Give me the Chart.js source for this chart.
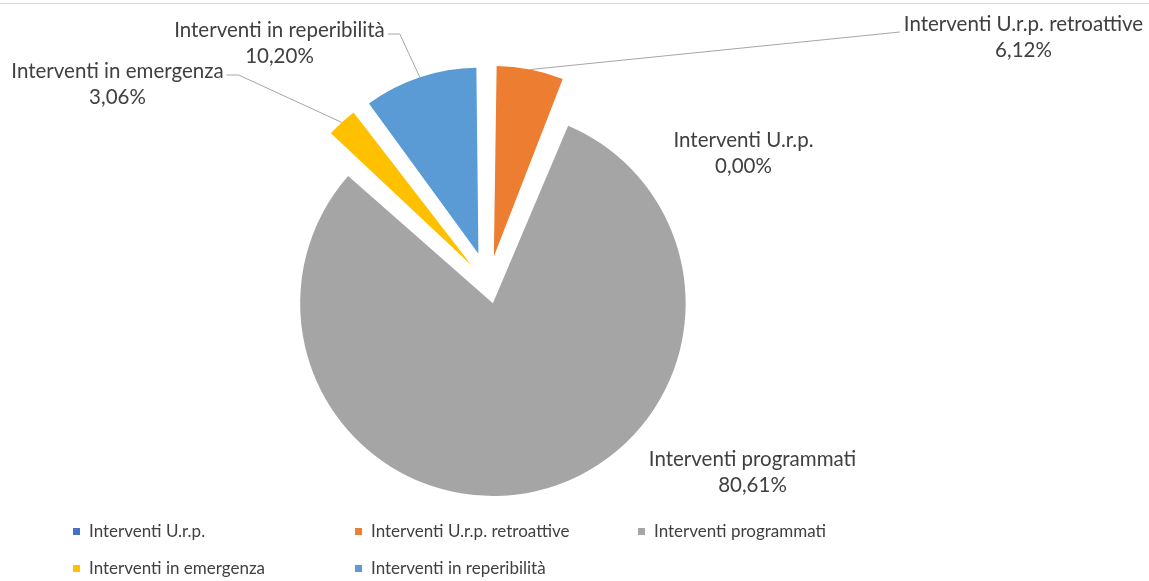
<!DOCTYPE html>
<html>
<head>
<meta charset="utf-8">
<script src="https://cdn.jsdelivr.net/npm/chart.js@4"></script>
<style>
  body { margin: 0; background: #fff; }
  canvas { display: block; }
</style>
</head>
<body>
<canvas id="chart" width="1149" height="581"></canvas>
<script>
const categories = ['Interventi U.r.p.', 'Interventi U.r.p. retroattive', 'Interventi programmati', 'Interventi in emergenza', 'Interventi in reperibilità'];
const shares = [0.00, 6.12, 80.61, 3.06, 10.20];
const sliceColors = ['#4472C4', '#ED7D31', '#A5A5A5', '#FFC000', '#5B9BD5'];
// chart.js explode offsets (it moves a slice by offset/4 and grows it a bit)
const sliceOffsets = [0, 112, 79, 100, 128];

// where each data label sits, relative to the pie centre, and which side the leader line leaves from
const labelPlacement = [
    { dx: 255, dy: -144, leader: null },
    { dx: 535, dy: -260, leader: 'left' },
    { dx: 264, dy: 175, leader: null },
    { dx: -371, dy: -213, leader: 'right' },
    { dx: -209, dy: -254, leader: 'right' }
];

const FONT = 'Lato, "Open Sans", sans-serif';

function fmtPct(v) {
    return v.toFixed(2).replace('.', ',') + '%';
}

const pieLabels = {
    id: 'pieLabels',
    beforeDraw(chart) {
        const ctx = chart.ctx;
        ctx.save();
        ctx.strokeStyle = '#D9D9D9';
        ctx.lineWidth = 1;
        ctx.beginPath();
        ctx.moveTo(0, 3.5);
        ctx.lineTo(chart.width, 3.5);
        ctx.stroke();
        ctx.restore();
    },
    afterDatasetsDraw(chart) {
        const ctx = chart.ctx;
        const meta = chart.getDatasetMeta(0);
        ctx.save();
        meta.data.forEach((arc, i) => {
            const p = labelPlacement[i];
            const circ = arc.endAngle - arc.startAngle;
            const mid = (arc.startAngle + arc.endAngle) / 2;
            // same maths as ArcElement.draw: move by o, radius grows by o * fix
            const o = (arc.options.offset || 0) / 4;
            const fix = 1 - Math.sin(Math.min(Math.PI, circ));
            const reach = o + arc.outerRadius + o * fix;
            const ax = arc.x + Math.cos(mid) * reach;
            const ay = arc.y + Math.sin(mid) * reach;
            const tx = arc.x + p.dx;
            const ty = arc.y + p.dy;

            ctx.font = '20.5px ' + FONT;
            ctx.fillStyle = '#404040';
            ctx.textAlign = 'center';
            ctx.textBaseline = 'middle';
            const w = ctx.measureText(categories[i]).width;
            ctx.fillText(categories[i], tx, ty);
            ctx.fillText(fmtPct(shares[i]), tx, ty + 26);

            if (p.leader) {
                ctx.strokeStyle = '#A6A6A6';
                ctx.lineWidth = 1;
                ctx.beginPath();
                if (p.leader === 'right') {
                    const sx = tx + w / 2 + 3;
                    ctx.moveTo(sx, ty + 4);
                    ctx.lineTo(sx + 12, ty + 4);
                } else {
                    ctx.moveTo(tx - w / 2 - 4, ty + 8);
                }
                ctx.lineTo(ax, ay);
                ctx.stroke();
            }
        });

        // legend, three fixed columns
        const colX = [73, 355, 638];
        const rowY = [532, 569];
        ctx.font = '17px ' + FONT;
        ctx.textAlign = 'left';
        ctx.textBaseline = 'middle';
        categories.forEach((name, i) => {
            const x = colX[i % 3];
            const y = rowY[Math.floor(i / 3)];
            ctx.fillStyle = sliceColors[i];
            ctx.fillRect(x, y - 4, 7, 7);
            ctx.fillStyle = '#404040';
            ctx.fillText(name, x + 16, y);
        });
        ctx.restore();
    }
};

var ctx = document.getElementById('chart').getContext('2d');
new Chart(ctx, {
    type: 'pie',
    data: {
        labels: categories,
        datasets: [{
            data: shares,
            backgroundColor: sliceColors,
            borderWidth: 0,
            offset: sliceOffsets
        }]
    },
    options: {
        responsive: false,
        animation: false,
        radius: 173,
        layout: {
            padding: { left: 0, right: 172, top: 0, bottom: 13 }
        },
        plugins: {
            legend: { display: false },
            tooltip: { enabled: false }
        }
    },
    plugins: [pieLabels]
});
</script>
</body>
</html>
